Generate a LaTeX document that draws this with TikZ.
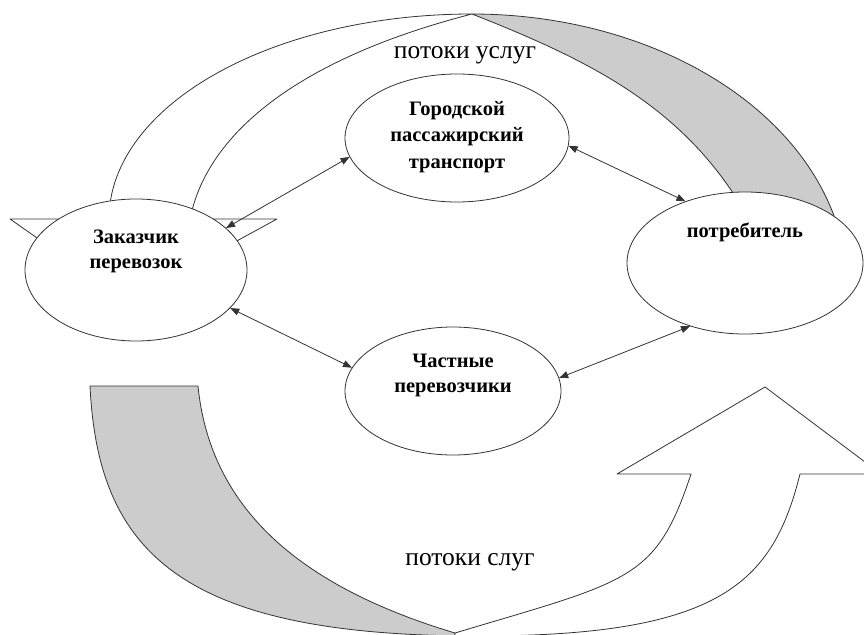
\documentclass[tikz,border=0pt]{standalone}
\usepackage{fontspec}
\setmainfont{Liberation Serif}
\usetikzlibrary{shapes.geometric,arrows.meta}
\definecolor{linec}{HTML}{333333}
\definecolor{bandgray}{HTML}{CCCCCC}
\begin{document}
\begin{tikzpicture}[x=1pt,y=-1pt,line width=0.8pt,
  bub/.style={ellipse,draw=linec,fill=white,inner sep=0pt},
  lbl/.style={font=\bfseries\fontsize{20.5}{25}\selectfont,align=center,inner sep=0pt},
  flow/.style={font=\fontsize{25.5}{30}\selectfont,inner sep=0pt,anchor=base},
  band/.style={draw=linec,fill=white,line join=round},
  back/.style={draw=linec,fill=bandgray,line join=round},
  link/.style={draw=linec,{Triangle[length=9pt,width=7pt]}-{Triangle[length=9pt,width=7pt]}}]
\useasboundingbox (0,0) rectangle (864,634);
% top curved arrow: front part with head
\path[band] (10,219) -- (127,301) -- (277,219) -- (190,219)
  .. controls (207.9,129.5) and (305.4,56.8) .. (472,14)
  -- plot[domain=90:180,samples=90,variable=\t] ({472+363*cos(\t)},{219-205*sin(\t)})
  -- cycle;
% top curved arrow: back part
\path[back] (472,14) .. controls (581,57) and (671,100) .. (733,193)
  -- (745,240) -- (847,287)
  -- plot[domain=0:90,samples=90,variable=\t] ({472+375*cos(\t)},{287-273*sin(\t)})
  -- cycle;
% bottom curved arrow: back part
\path[back] (90,386) -- (198,386)
  .. controls (210.6,512.3) and (305,588) .. (455,633)
  -- (455,650) -- (478,650) -- (478,636)
  .. controls (178,636) and (98,550) .. (90,386) -- cycle;
% bottom curved arrow: front part with head
\path[band] (455,633) .. controls (629.3,580.7) and (655.7,581) .. (691,474)
  -- (617,474) -- (765,387) -- (881,474) -- (800,474)
  .. controls (772.7,583.3) and (720,636) .. (478,636)
  -- (478,650) -- (455,650) -- cycle;
% ellipses
\node[bub,minimum width=222pt,minimum height=142pt] (zak) at (136,270) {};
\node[bub,minimum width=224pt,minimum height=128pt] (gor) at (457,138) {};
\node[bub,minimum width=216pt,minimum height=128pt] (chast) at (453,391) {};
\node[bub,minimum width=236pt,minimum height=142pt] (potr) at (745,263) {};
% labels
\node[lbl] (zakT) at (136,251) {Заказчик\\перевозок};
\node[lbl,font=\bfseries\fontsize{20.5}{26.5}\selectfont] (gorT) at (457,137) {Городской\\пассажирский\\транспорт};
\node[lbl] (chastT) at (453,375) {Частные\\перевозчики};
\node[lbl] (potrT) at (745,232) {потребитель};
\node[flow] (top) at (465,59) {потоки услуг};
\node[flow] (bot) at (470,565) {потоки слуг};
% connectors
\draw[link] (zak.25) -- (gor.190);
\draw[link] (gor.-4) -- (potr.134);
\draw[link] (zak.-22) -- (chast.167);
\draw[link] (chast.7) -- (potr.229);
\end{tikzpicture}
\end{document}
